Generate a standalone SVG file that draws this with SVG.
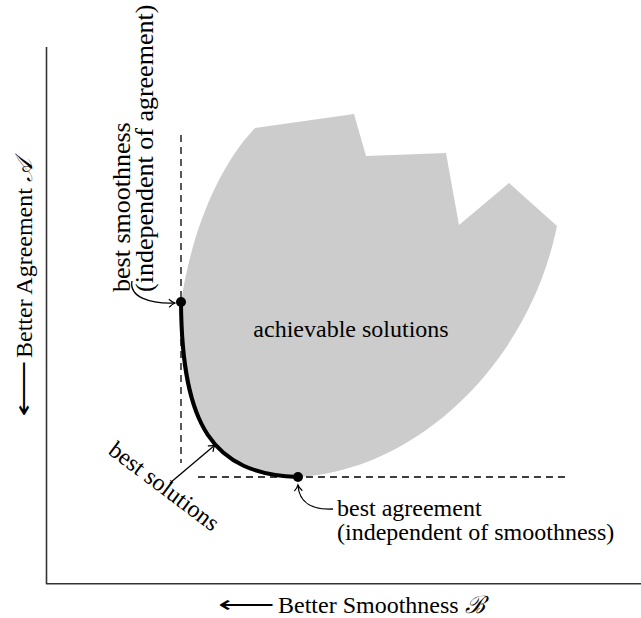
<svg xmlns="http://www.w3.org/2000/svg" width="641" height="618" viewBox="0 0 641 618">
<style>
text{font-family:"Liberation Serif","Times New Roman",serif;font-size:24px;fill:#000}
.big{font-size:26px}
.axis{stroke:#333;stroke-width:1.6;fill:none}
.dash{stroke:#000;stroke-width:1.3;stroke-dasharray:7 5;fill:none}
.conn{stroke:#000;stroke-width:1.3;fill:none;marker-end:url(#ah)}
.sym{font-family:"DejaVu Sans",sans-serif;font-weight:200}
</style>
<defs>
<marker id="ah" viewBox="-7 -5 9 10" markerWidth="9" markerHeight="10" markerUnits="userSpaceOnUse" orient="auto" refX="0" refY="0">
<path d="M-6,-4 C-3.5,-1.6 -1.2,-0.4 0,0 C-1.2,0.4 -3.5,1.6 -6,4" stroke="#000" stroke-width="1.2" fill="none"/>
</marker>
</defs>
<g id="axes">
<line class="axis" x1="46.5" y1="47" x2="46.5" y2="584"/>
<line class="axis" x1="46" y1="583.7" x2="641" y2="583.7"/>
<text class="sym" transform="translate(32,417) rotate(-90) scale(1.65,1)">⟵</text>
<text transform="translate(32,358) rotate(-90)">Better Agreement <tspan font-style="italic">𝒜</tspan></text>
<text class="sym" transform="translate(218,613) scale(1.65,1)">⟵</text>
<text x="278" y="613">Better Smoothness <tspan font-style="italic">ℬ</tspan></text>
</g>
<g id="achievable">
<path d="M181,303 C190,240 215,170 255,128 L354,114 L366,156 L446,153 L459,225 L509,183 L557,226 C530,360 420,470 298,477 C205,474 182,420 181,303 Z" fill="#cccccc"/>
<text x="351" y="337" text-anchor="middle">achievable solutions</text>
</g>
<g id="guides">
<line class="dash" x1="181" y1="135" x2="181" y2="463"/>
<line class="dash" x1="198" y1="477" x2="566" y2="477"/>
</g>
<g id="pareto">
<path d="M181,303 C182,425 212,474 298,477" stroke="#000" stroke-width="4" fill="none"/>
<circle cx="181" cy="302" r="5"/>
<circle cx="298" cy="477" r="5"/>
</g>
<g id="label-smoothness">
<text class="big" transform="translate(130,292) rotate(-90)">best smoothness</text>
<text class="big" transform="translate(153,292) rotate(-90)">(independent of agreement)</text>
</g>
<g id="label-solutions">
<text transform="translate(107,453) rotate(37)">best solutions</text>
</g>
<g id="label-agreement">
<text x="337" y="516">best agreement</text>
<text x="337" y="540">(independent of smoothness)</text>
</g>
<g id="connectors">
<path class="conn" d="M132,281 C129,297 150,304 175,303"/>
<path class="conn" d="M170,483 L215,445"/>
<path class="conn" d="M333,509 C314,510 299,504 298,485"/>
</g>
</svg>
